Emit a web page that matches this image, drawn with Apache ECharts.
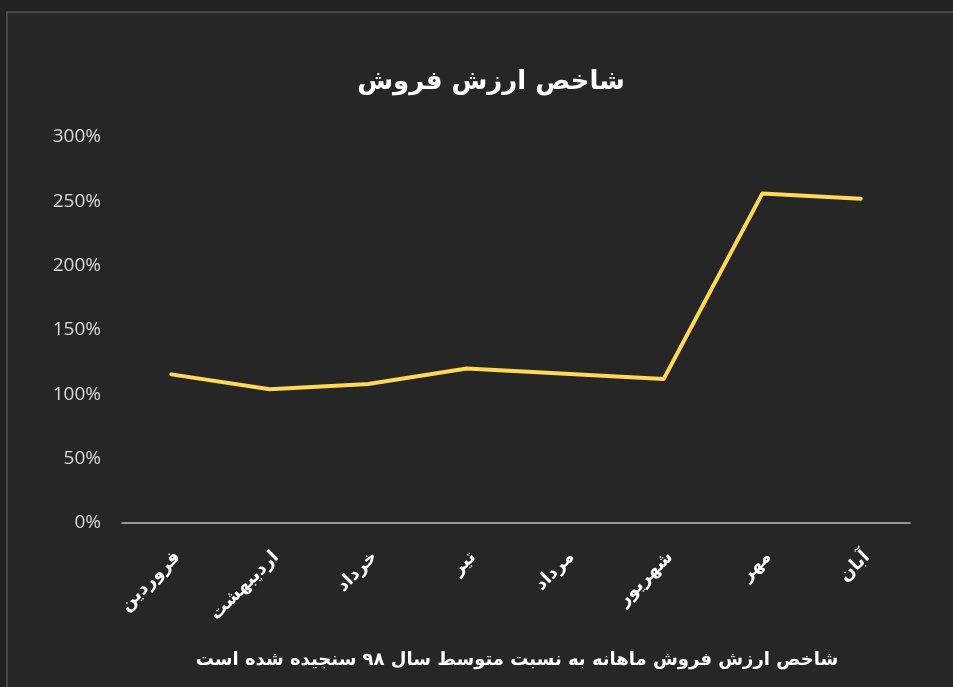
<!DOCTYPE html>
<html>
<head>
<meta charset="utf-8">
<script src="https://cdn.jsdelivr.net/npm/echarts@6/dist/echarts.min.js"></script>
<style>
html,body{margin:0;padding:0;background:#212121;}
#main{position:absolute;left:0;top:0;width:953px;height:687px;}
</style>
</head>
<body>
<div id="main"></div>
<script>
const titleText = 'شاخص ارزش فروش';
const footnoteText = 'شاخص ارزش فروش ماهانه به نسبت متوسط سال ۹۸ سنجیده شده است';
const months = ['فروردین', 'اردیبهشت', 'خرداد', 'تیر', 'مرداد', 'شهریور', 'مهر', 'آبان'];
const salesIndex = [115.5, 104, 108, 120, 116, 112, 256, 252];
const yTicks = {min: 0, max: 300, interval: 50};

const chart = echarts.init(document.getElementById('main'), null, {renderer: 'canvas'});
chart.setOption({
  backgroundColor: 'transparent',
  animation: false,
  graphic: [
    {type: 'rect', z: -10, shape: {x: 7, y: 12, width: 960, height: 690},
     style: {fill: '#262626', stroke: '#474747', lineWidth: 2}}
  ],
  title: [
    {text: titleText, left: 486, top: 64, textAlign: 'center',
     textStyle: {color: '#ffffff', fontSize: 26, fontWeight: 'bold', fontFamily: 'DejaVu Sans'}},
    {text: footnoteText, left: 512, top: 646, textAlign: 'center',
     textStyle: {color: '#ffffff', fontSize: 18, fontWeight: 'bold', fontFamily: 'DejaVu Sans'}}
  ],
  grid: {left: 122, right: 43, top: 137, bottom: 164, containLabel: false},
  xAxis: {
    type: 'category',
    data: months,
    boundaryGap: true,
    axisLine: {show: true, lineStyle: {color: '#bfbfbf', width: 1.5}},
    axisTick: {show: false},
    axisLabel: {rotate: 45, margin: 25, color: '#ffffff', fontSize: 18, fontWeight: 'bold',
                fontFamily: 'DejaVu Sans', interval: 0, verticalAlign: 'top'},
    splitLine: {show: false}
  },
  yAxis: {
    type: 'value',
    min: yTicks.min, max: yTicks.max, interval: yTicks.interval,
    axisLine: {show: false},
    axisTick: {show: false},
    splitLine: {show: false},
    axisLabel: {formatter: '{value}%', color: '#d9d9d9', fontSize: 19, margin: 21,
                fontFamily: 'Open Sans'}
  },
  series: [{
    type: 'line',
    data: salesIndex,
    symbol: 'none',
    smooth: false,
    lineStyle: {color: '#ffd85a', width: 4, cap: 'round', join: 'round'}
  }]
});
</script>
</body>
</html>
